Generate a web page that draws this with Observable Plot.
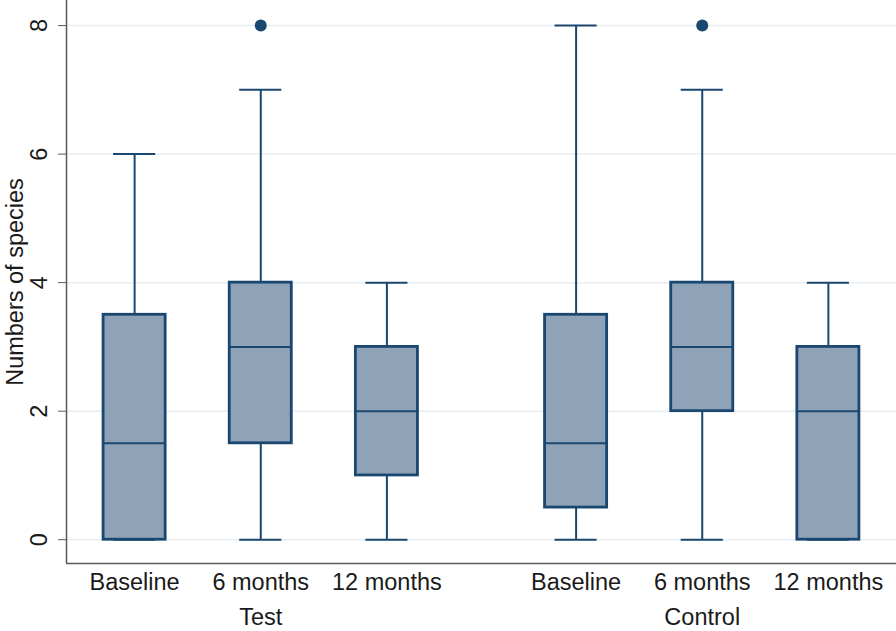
<!DOCTYPE html>
<html>
<head>
<meta charset="utf-8">
<script src="https://cdn.jsdelivr.net/npm/d3@7"></script>
<script src="https://cdn.jsdelivr.net/npm/@observablehq/plot@0.6"></script>
<style>
  html, body { margin: 0; padding: 0; background: #fff; }
  #chart svg { display: block; font-family: "Liberation Sans", Arial, sans-serif; }
</style>
</head>
<body>
<div id="chart"></div>
<script>
// ---- data ----
const groups = ["Test", "Control"];
const times = ["Baseline", "6 months", "12 months"];
const groupIdx = [0, 0, 0, 1, 1, 1];
const timeIdx  = [0, 1, 2, 0, 1, 2];
const whiskerLo = [0, 0, 0, 0, 0, 0];
const q1        = [0, 1.5, 1, 0.5, 2, 0];
const median    = [1.5, 3, 2, 1.5, 3, 2];
const q3        = [3.5, 4, 3, 3.5, 4, 3];
const whiskerHi = [6, 7, 4, 8, 7, 4];
const outlierGroup = [0, 1];      // Test 6 months, Control 6 months
const outlierTime  = [1, 1];
const outlierValue = [8, 8];
const yTicks = [0, 2, 4, 6, 8];

// ---- layout helpers ----
const groupGap = 3.5;
const pos = (g, t) => g * groupGap + t;
const boxHalf = 0.246, capHalf = 0.167;
const boxes = groupIdx.map((g, i) => ({
  x: pos(g, timeIdx[i]), label: times[timeIdx[i]],
  lo: whiskerLo[i], q1: q1[i], med: median[i], q3: q3[i], hi: whiskerHi[i]
}));
const outliers = outlierValue.map((v, i) => ({ x: pos(outlierGroup[i], outlierTime[i]), y: v }));
const groupCenters = groups.map((name, g) => ({ x: pos(g, 1), name }));

const xDomain = [-0.54, pos(1, 2) + 0.54];
const yDomain = [-0.37, 8.39];
const navy = "#1a476f";
const fill = "#8ea3b8";
const axisCol = "#5a5a5a";
const fs = 23.5;

const chart = Plot.plot({
  width: 896, height: 631,
  marginLeft: 66, marginRight: 0, marginTop: 0, marginBottom: 68,
  style: { fontFamily: "Liberation Sans, Arial, sans-serif", fontSize: fs + "px", color: "#1a1a1a", background: "#fff" },
  x: { domain: xDomain, axis: null },
  y: { domain: yDomain, axis: null },
  marks: [
    Plot.ruleY(yTicks, { stroke: "#e6eef2", strokeWidth: 1.5 }),
    // whiskers
    Plot.ruleX(boxes, { x: "x", y1: "lo", y2: "q1", stroke: navy, strokeWidth: 2 }),
    Plot.ruleX(boxes, { x: "x", y1: "q3", y2: "hi", stroke: navy, strokeWidth: 2 }),
    // caps
    Plot.ruleY(boxes, { y: "lo", x1: d => d.x - capHalf, x2: d => d.x + capHalf, stroke: navy, strokeWidth: 2 }),
    Plot.ruleY(boxes, { y: "hi", x1: d => d.x - capHalf, x2: d => d.x + capHalf, stroke: navy, strokeWidth: 2 }),
    // boxes
    Plot.rect(boxes, { x1: d => d.x - boxHalf, x2: d => d.x + boxHalf, y1: "q1", y2: "q3", fill: fill, stroke: navy, strokeWidth: 2.8 }),
    // medians
    Plot.ruleY(boxes, { y: "med", x1: d => d.x - boxHalf, x2: d => d.x + boxHalf, stroke: navy, strokeWidth: 2 }),
    // outliers
    Plot.dot(outliers, { x: "x", y: "y", r: 6, fill: navy, stroke: null }),
    // axis lines
    Plot.ruleX([xDomain[0]], { stroke: axisCol, strokeWidth: 1.5 }),
    Plot.ruleY([yDomain[0]], { stroke: axisCol, strokeWidth: 1.5 }),
    // y axis
    Plot.axisY({ ticks: yTicks, tickSize: 8, tickPadding: 12, tickRotate: -90, stroke: axisCol,
      label: "Numbers of species", labelAnchor: "center", labelArrow: "none", labelOffset: 60, fontSize: fs }),
    // x axis category labels
    Plot.axisX({ ticks: boxes.map(d => d.x), tickFormat: v => boxes.find(b => b.x === v).label,
      tickSize: 0, tickPadding: 10, label: null, fontSize: fs }),
    // group labels
    Plot.axisX({ ticks: groupCenters.map(d => d.x), tickFormat: v => groupCenters.find(g => g.x === v).name,
      tickSize: 0, tickPadding: 45, label: null, fontSize: fs })
  ]
});
document.getElementById("chart").append(chart);
</script>
</body>
</html>
